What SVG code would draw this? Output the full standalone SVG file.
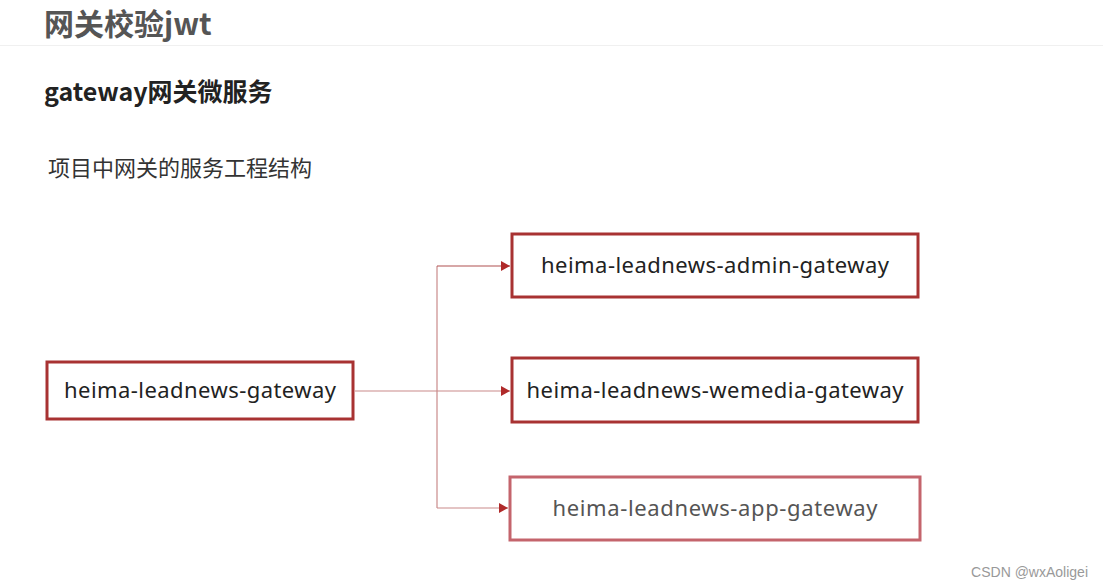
<svg xmlns="http://www.w3.org/2000/svg" width="1103" height="588" viewBox="0 0 1103 588">
<style>
.cjk{font-family:"Noto Sans CJK SC","Noto Sans",sans-serif}
.box{fill:#fff;stroke:#a83232;stroke-width:3}
.lbl{font-family:"Noto Sans","Open Sans",sans-serif;font-size:22px;fill:#222;text-anchor:middle}
.conn{stroke:#c98a8a;stroke-width:1.2;fill:none}
</style>
<defs>
<marker id="arr" markerWidth="10" markerHeight="10" refX="9" refY="5" orient="auto" markerUnits="userSpaceOnUse">
<path d="M0,0 L9,5 L0,10 Z" fill="#b02a2a"/>
</marker>
</defs>
<rect width="1103" height="588" fill="#fff"/>
<text x="44" y="35" class="cjk" font-size="30" font-weight="bold" fill="#555">网关校验jwt</text>
<line x1="0" y1="45.5" x2="1103" y2="45.5" stroke="#f0f0f0" stroke-width="1"/>
<text x="44" y="101" class="cjk" font-size="25" font-weight="bold" fill="#222">gateway网关微服务</text>
<text x="48" y="176" class="cjk" font-size="22" fill="#333">项目中网关的服务工程结构</text>
<g id="connectors">
<path class="conn" d="M355,391 H510" marker-end="url(#arr)"/>
<path class="conn" d="M437,266 V508"/>
<path class="conn" d="M437,266 H510" style="stroke:#b05050" marker-end="url(#arr)"/>
<path class="conn" d="M437,508 H508" marker-end="url(#arr)"/>
</g>
<g id="gateway">
<rect class="box" x="47" y="362" width="306" height="57"/>
<text class="lbl" x="200" y="398" textLength="272">heima-leadnews-gateway</text>
</g>
<g id="admin-gateway">
<rect class="box" x="512" y="234" width="406" height="63"/>
<text class="lbl" x="715" y="273" textLength="348">heima-leadnews-admin-gateway</text>
</g>
<g id="wemedia-gateway">
<rect class="box" x="512" y="358" width="406" height="64"/>
<text class="lbl" x="715" y="398" textLength="377">heima-leadnews-wemedia-gateway</text>
</g>
<g id="app-gateway">
<rect class="box" x="510" y="477" width="410" height="63" style="stroke:#c4646c"/>
<text class="lbl" x="715" y="516" textLength="325" style="fill:#555">heima-leadnews-app-gateway</text>
</g>
<text x="1088" y="577" font-family="Liberation Sans,sans-serif" font-size="14" fill="#999" text-anchor="end">CSDN @wxAoligei</text>
</svg>
